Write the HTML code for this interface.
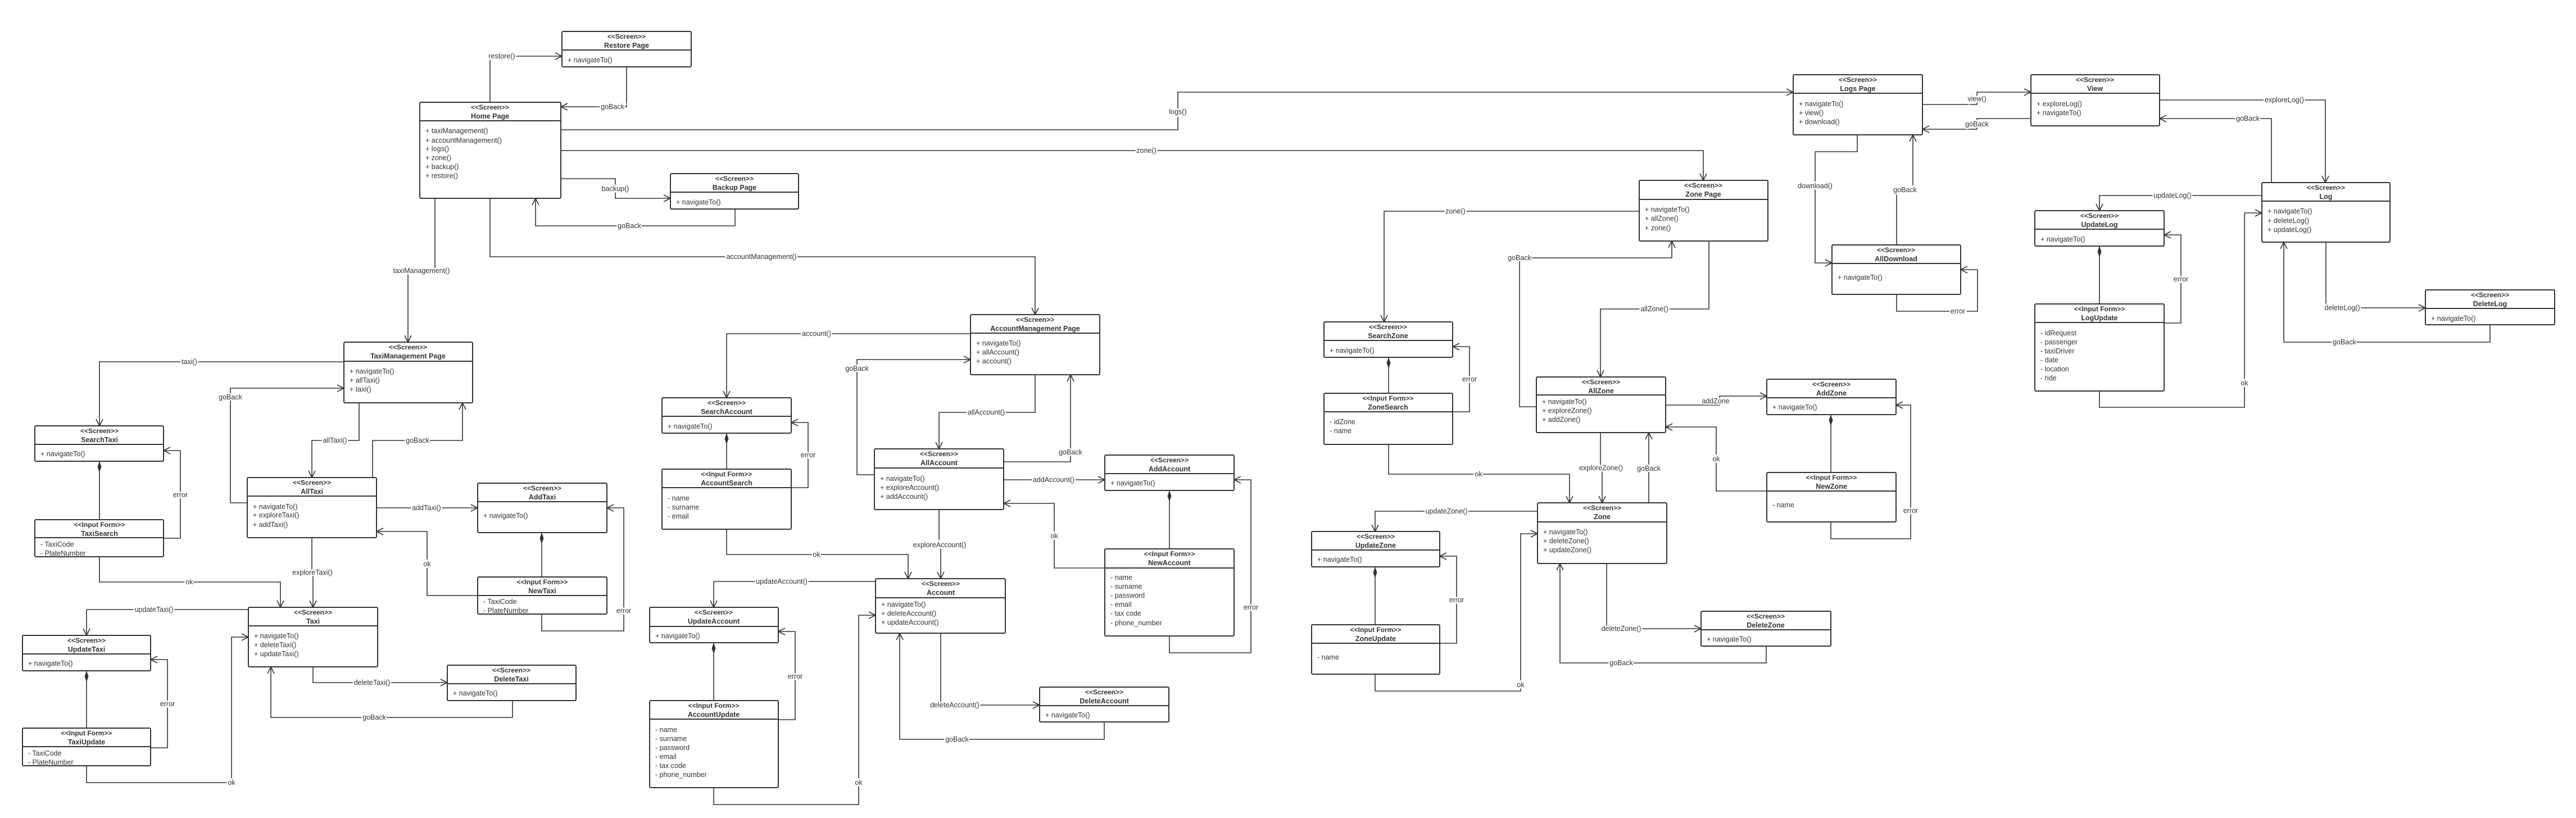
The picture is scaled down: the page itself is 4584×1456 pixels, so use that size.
<!DOCTYPE html>
<html><head><meta charset="utf-8"><style>
html,body{margin:0;padding:0;background:#fff}
svg{display:block}
text{font-family:"Liberation Sans",sans-serif;fill:#333;font-size:12.5px}
.s{font-weight:bold;text-anchor:middle;font-size:12px}
.n{font-weight:bold;text-anchor:middle;font-size:12.5px}
.l{text-anchor:middle;dominant-baseline:central;stroke:#fff;stroke-width:5px;paint-order:stroke;font-size:12.5px}
.b{fill:#fff;stroke:#333;stroke-width:2}
.d{stroke:#333;stroke-width:2}
.c{fill:none;stroke:#333;stroke-width:1.6;marker-end:url(#a)}
.k{fill:none;stroke:#333;stroke-width:1.6;marker-start:url(#m)}
.p{fill:none;stroke:#333;stroke-width:1.6}
</style></head><body>
<svg width="4584" height="1456" viewBox="0 0 4584 1456" xmlns="http://www.w3.org/2000/svg">
<defs>
<marker id="a" viewBox="0 0 14 14" refX="13" refY="7" markerWidth="14" markerHeight="14" markerUnits="userSpaceOnUse" orient="auto"><path d="M1,1 L13,7 L1,13" fill="none" stroke="#333" stroke-width="1.6"/></marker>
<marker id="m" viewBox="0 0 20 10" refX="0" refY="5" markerWidth="20" markerHeight="10" markerUnits="userSpaceOnUse" orient="auto"><path d="M0,5 L10,1.5 L20,5 L10,8.5Z" fill="#333"/></marker>
</defs>

<!-- connectors -->
<polyline class="c" points="872,182 872,100 1000,100"/>
<polyline class="c" points="1115,119 1115,190 998,190"/>
<polyline class="c" points="998,231 2096,231 2096,164 3191,164"/>
<polyline class="c" points="998,268 3031,268 3031,321"/>
<polyline class="c" points="998,318 1095,318 1095,353 1193,353"/>
<polyline class="c" points="1308,372 1308,402 953,402 953,353"/>
<polyline class="c" points="872,353 872,457 1842,457 1842,560"/>
<polyline class="c" points="774,353 774,482 726,482 726,609"/>
<polyline class="c" points="612,644 177,644 177,758"/>
<polyline class="c" points="440,895 410,895 410,691 612,691"/>
<polyline class="c" points="639,717 639,784 555,784 555,850"/>
<polyline class="c" points="663,850 663,784 823,784 823,717"/>
<polyline class="c" points="291,958 321,958 321,802 291,802"/>
<polyline class="k" points="177,821 177,925"/>
<polyline class="c" points="177,991 177,1036 499,1036 499,1081"/>
<polyline class="c" points="670,904 850,904"/>
<polyline class="c" points="850,1060 760,1060 760,946 670,946"/>
<polyline class="k" points="964,948 964,1027"/>
<polyline class="c" points="964,1093 964,1123 1110,1123 1110,904 1080,904"/>
<polyline class="c" points="555,957 555,1019 557,1019 557,1081"/>
<polyline class="c" points="442,1085 154,1085 154,1131"/>
<polyline class="c" points="268,1331 298,1331 298,1174 268,1174"/>
<polyline class="k" points="154,1194 154,1296"/>
<polyline class="c" points="154,1363 154,1393 412,1393 412,1134 442,1134"/>
<polyline class="c" points="557,1187 557,1215 796,1215"/>
<polyline class="c" points="912,1247 912,1277 482,1277 482,1187"/>

<polyline class="c" points="1727,594 1293,594 1293,708"/>
<polyline class="c" points="1556,845 1525,845 1525,640 1727,640"/>
<polyline class="c" points="1842,667 1842,734 1671,734 1671,799"/>
<polyline class="c" points="1786,822 1905,822 1905,667"/>
<polyline class="c" points="1408,868 1438,868 1438,752 1408,752"/>
<polyline class="k" points="1293,771 1293,835"/>
<polyline class="c" points="1293,942 1293,987 1616,987 1616,1030"/>
<polyline class="c" points="1786,854 1966,854"/>
<polyline class="c" points="1966,1011 1876,1011 1876,896 1786,896"/>
<polyline class="k" points="2081,873 2081,977"/>
<polyline class="c" points="2081,1132 2081,1162 2226,1162 2226,854 2196,854"/>
<polyline class="c" points="1671,907 1671,970 1674,970 1674,1030"/>
<polyline class="c" points="1558,1035 1270,1035 1270,1081"/>
<polyline class="c" points="1385,1281 1415,1281 1415,1124 1385,1124"/>
<polyline class="k" points="1270,1144 1270,1247"/>
<polyline class="c" points="1270,1402 1270,1432 1528,1432 1528,1095 1558,1095"/>
<polyline class="c" points="1674,1127 1674,1255 1850,1255"/>
<polyline class="c" points="1965,1285 1965,1316 1601,1316 1601,1127"/>

<polyline class="c" points="2917,376 2463,376 2463,573"/>
<polyline class="c" points="2734,724 2704,724 2704,459 2975,459 2975,429"/>
<polyline class="c" points="3041,429 3041,550 2848,550 2848,671"/>
<polyline class="c" points="2585,733 2615,733 2615,617 2585,617"/>
<polyline class="k" points="2471,636 2471,700"/>
<polyline class="c" points="2471,791 2471,844 2793,844 2793,895"/>
<polyline class="c" points="2964,721 3060,721 3060,705 3144,705"/>
<polyline class="c" points="3144,874 3054,874 3054,760 2964,760"/>
<polyline class="k" points="3258,738 3258,841"/>
<polyline class="c" points="3258,929 3258,959 3400,959 3400,721 3374,721"/>
<polyline class="c" points="2848,770 2848,833 2851,833 2851,895"/>
<polyline class="c" points="2934,895 2934,770"/>
<polyline class="c" points="2736,910 2447,910 2447,946"/>
<polyline class="c" points="2562,1145 2592,1145 2592,990 2562,990"/>
<polyline class="k" points="2447,1009 2447,1112"/>
<polyline class="c" points="2447,1200 2447,1230 2706,1230 2706,950 2736,950"/>
<polyline class="c" points="2859,1003 2859,1119 3027,1119"/>
<polyline class="c" points="3143,1150 3143,1180 2776,1180 2776,1003"/>

<polyline class="c" points="3421,186 3518,186 3518,164 3614,164"/>
<polyline class="c" points="3614,211 3518,211 3518,230 3421,230"/>
<polyline class="c" points="3843,178 4138,178 4138,325"/>
<polyline class="c" points="4042,325 4042,211 3843,211"/>
<polyline class="c" points="3305,240 3305,270 3230,270 3230,468 3260,468"/>
<polyline class="c" points="3375,436 3375,338 3404,338 3404,240"/>
<polyline class="c" points="3375,524 3375,554 3519,554 3519,480 3489,480"/>
<polyline class="c" points="4025,348 3736,348 3736,375"/>
<polyline class="c" points="3851,575 3881,575 3881,418 3851,418"/>
<polyline class="k" points="3736,438 3736,541"/>
<polyline class="c" points="3736,696 3736,725 3994,725 3994,379 4025,379"/>
<polyline class="c" points="4139,431 4139,548 4316,548"/>
<polyline class="c" points="4431,578 4431,609 4064,609 4064,431"/>

<!-- labels -->
<text class="l" x="893" y="100">restore()</text>
<text class="l" x="1090" y="190">goBack</text>
<text class="l" x="2096" y="199">logs()</text>
<text class="l" x="2040" y="268">zone()</text>
<text class="l" x="1095" y="336">backup()</text>
<text class="l" x="1120" y="402">goBack</text>
<text class="l" x="1355" y="457">accountManagement()</text>
<text class="l" x="750" y="482">taxiManagement()</text>
<text class="l" x="337" y="644">taxi()</text>
<text class="l" x="410" y="707">goBack</text>
<text class="l" x="596" y="784">allTaxi()</text>
<text class="l" x="743" y="784">goBack</text>
<text class="l" x="321" y="881">error</text>
<text class="l" x="337" y="1036">ok</text>
<text class="l" x="759" y="904">addTaxi()</text>
<text class="l" x="760" y="1004">ok</text>
<text class="l" x="1110" y="1087">error</text>
<text class="l" x="556" y="1019">exploreTaxi()</text>
<text class="l" x="274" y="1085">updateTaxi()</text>
<text class="l" x="298" y="1253">error</text>
<text class="l" x="412" y="1393">ok</text>
<text class="l" x="662" y="1215">deleteTaxi()</text>
<text class="l" x="666" y="1277">goBack</text>

<text class="l" x="1453" y="594">account()</text>
<text class="l" x="1525" y="656">goBack</text>
<text class="l" x="1755" y="734">allAccount()</text>
<text class="l" x="1905" y="805">goBack</text>
<text class="l" x="1438" y="810">error</text>
<text class="l" x="1453" y="987">ok</text>
<text class="l" x="1875" y="854">addAccount()</text>
<text class="l" x="1876" y="954">ok</text>
<text class="l" x="2226" y="1081">error</text>
<text class="l" x="1672" y="970">exploreAccount()</text>
<text class="l" x="1391" y="1035">updateAccount()</text>
<text class="l" x="1415" y="1204">error</text>
<text class="l" x="1528" y="1393">ok</text>
<text class="l" x="1699" y="1255">deleteAccount()</text>
<text class="l" x="1703" y="1316">goBack</text>

<text class="l" x="2590" y="376">zone()</text>
<text class="l" x="2704" y="459">goBack</text>
<text class="l" x="2944" y="550">allZone()</text>
<text class="l" x="2615" y="675">error</text>
<text class="l" x="2631" y="844">ok</text>
<text class="l" x="3053" y="714">addZone</text>
<text class="l" x="3054" y="817">ok</text>
<text class="l" x="3400" y="909">error</text>
<text class="l" x="2849" y="833">exploreZone()</text>
<text class="l" x="2934" y="834">goBack</text>
<text class="l" x="2574" y="910">updateZone()</text>
<text class="l" x="2592" y="1068">error</text>
<text class="l" x="2706" y="1219">ok</text>
<text class="l" x="2885" y="1119">deleteZone()</text>
<text class="l" x="2885" y="1180">goBack</text>

<text class="l" x="3518" y="176">view()</text>
<text class="l" x="3518" y="221">goBack</text>
<text class="l" x="4065" y="178">exploreLog()</text>
<text class="l" x="4000" y="211">goBack</text>
<text class="l" x="3230" y="331">download()</text>
<text class="l" x="3390" y="338">goBack</text>
<text class="l" x="3484" y="554">error</text>
<text class="l" x="3866" y="348">updateLog()</text>
<text class="l" x="3881" y="497">error</text>
<text class="l" x="3994" y="682">ok</text>
<text class="l" x="4168" y="548">deleteLog()</text>
<text class="l" x="4172" y="609">goBack</text>

<!-- boxes -->
<!-- Restore Page -->
<rect class="b" x="1000" y="56" width="230" height="63" rx="2"/><line class="d" x1="1000" y1="89" x2="1230" y2="89"/>
<text class="s" x="1115" y="69">&lt;&lt;Screen&gt;&gt;</text><text class="n" x="1115" y="85">Restore Page</text>
<text x="1010" y="111">+ navigateTo()</text>
<!-- Home Page -->
<rect class="b" x="747" y="182" width="251" height="171" rx="2"/><line class="d" x1="747" y1="215" x2="998" y2="215"/>
<text class="s" x="872" y="195">&lt;&lt;Screen&gt;&gt;</text><text class="n" x="872" y="211">Home Page</text>
<text x="757" y="237">+ taxiManagement()</text><text x="757" y="254">+ accountManagement()</text><text x="757" y="269">+ logs()</text><text x="757" y="285">+ zone()</text><text x="757" y="301">+ backup()</text><text x="757" y="317">+ restore()</text>
<!-- Backup Page -->
<rect class="b" x="1193" y="309" width="228" height="63" rx="2"/><line class="d" x1="1193" y1="342" x2="1421" y2="342"/>
<text class="s" x="1307" y="322">&lt;&lt;Screen&gt;&gt;</text><text class="n" x="1307" y="338">Backup Page</text>
<text x="1203" y="364">+ navigateTo()</text>
<!-- TaxiManagement -->
<rect class="b" x="612" y="609" width="229" height="108" rx="2"/><line class="d" x1="612" y1="643" x2="841" y2="643"/>
<text class="s" x="726" y="622">&lt;&lt;Screen&gt;&gt;</text><text class="n" x="726" y="638">TaxiManagement Page</text>
<text x="622" y="665">+ navigateTo()</text><text x="622" y="681">+ allTaxi()</text><text x="622" y="697">+ taxi()</text>
<!-- SearchTaxi -->
<rect class="b" x="62" y="758" width="229" height="63" rx="2"/><line class="d" x1="62" y1="791" x2="291" y2="791"/>
<text class="s" x="177" y="771">&lt;&lt;Screen&gt;&gt;</text><text class="n" x="177" y="787">SearchTaxi</text>
<text x="72" y="812">+ navigateTo()</text>
<!-- TaxiSearch -->
<rect class="b" x="62" y="925" width="229" height="66" rx="2"/><line class="d" x1="62" y1="957" x2="291" y2="957"/>
<text class="s" x="177" y="938">&lt;&lt;Input Form&gt;&gt;</text><text class="n" x="177" y="954">TaxiSearch</text>
<text x="72" y="973">- TaxiCode</text><text x="72" y="989">- PlateNumber</text>
<!-- AllTaxi -->
<rect class="b" x="440" y="850" width="230" height="107" rx="2"/><line class="d" x1="440" y1="883" x2="670" y2="883"/>
<text class="s" x="555" y="863">&lt;&lt;Screen&gt;&gt;</text><text class="n" x="555" y="879">AllTaxi</text>
<text x="450" y="906">+ navigateTo()</text><text x="450" y="921">+ exploreTaxi()</text><text x="450" y="938">+ addTaxi()</text>
<!-- AddTaxi -->
<rect class="b" x="850" y="860" width="230" height="88" rx="2"/><line class="d" x1="850" y1="893" x2="1080" y2="893"/>
<text class="s" x="965" y="873">&lt;&lt;Screen&gt;&gt;</text><text class="n" x="965" y="889">AddTaxi</text>
<text x="860" y="922">+ navigateTo()</text>
<!-- NewTaxi -->
<rect class="b" x="850" y="1027" width="230" height="66" rx="2"/><line class="d" x1="850" y1="1060" x2="1080" y2="1060"/>
<text class="s" x="965" y="1040">&lt;&lt;Input Form&gt;&gt;</text><text class="n" x="965" y="1056">NewTaxi</text>
<text x="860" y="1075">- TaxiCode</text><text x="860" y="1091">- PlateNumber</text>
<!-- Taxi -->
<rect class="b" x="442" y="1081" width="230" height="106" rx="2"/><line class="d" x1="442" y1="1114" x2="672" y2="1114"/>
<text class="s" x="557" y="1094">&lt;&lt;Screen&gt;&gt;</text><text class="n" x="557" y="1110">Taxi</text>
<text x="452" y="1136">+ navigateTo()</text><text x="452" y="1152">+ deleteTaxi()</text><text x="452" y="1168">+ updateTaxi()</text>
<!-- UpdateTaxi -->
<rect class="b" x="40" y="1131" width="228" height="63" rx="2"/><line class="d" x1="40" y1="1164" x2="268" y2="1164"/>
<text class="s" x="154" y="1144">&lt;&lt;Screen&gt;&gt;</text><text class="n" x="154" y="1160">UpdateTaxi</text>
<text x="50" y="1185">+ navigateTo()</text>
<!-- TaxiUpdate -->
<rect class="b" x="40" y="1296" width="228" height="67" rx="2"/><line class="d" x1="40" y1="1329" x2="268" y2="1329"/>
<text class="s" x="154" y="1309">&lt;&lt;Input Form&gt;&gt;</text><text class="n" x="154" y="1325">TaxiUpdate</text>
<text x="50" y="1345">- TaxiCode</text><text x="50" y="1361">- PlateNumber</text>
<!-- DeleteTaxi -->
<rect class="b" x="796" y="1184" width="229" height="63" rx="2"/><line class="d" x1="796" y1="1217" x2="1025" y2="1217"/>
<text class="s" x="910" y="1197">&lt;&lt;Screen&gt;&gt;</text><text class="n" x="910" y="1213">DeleteTaxi</text>
<text x="806" y="1238">+ navigateTo()</text>

<!-- AccountManagement -->
<rect class="b" x="1727" y="560" width="230" height="107" rx="2"/><line class="d" x1="1727" y1="593" x2="1957" y2="593"/>
<text class="s" x="1842" y="573">&lt;&lt;Screen&gt;&gt;</text><text class="n" x="1842" y="589">AccountManagement Page</text>
<text x="1737" y="615">+ navigateTo()</text><text x="1737" y="631">+ allAccount()</text><text x="1737" y="647">+ account()</text>
<!-- SearchAccount -->
<rect class="b" x="1178" y="708" width="230" height="63" rx="2"/><line class="d" x1="1178" y1="741" x2="1408" y2="741"/>
<text class="s" x="1293" y="721">&lt;&lt;Screen&gt;&gt;</text><text class="n" x="1293" y="737">SearchAccount</text>
<text x="1188" y="763">+ navigateTo()</text>
<!-- AccountSearch -->
<rect class="b" x="1178" y="835" width="230" height="107" rx="2"/><line class="d" x1="1178" y1="868" x2="1408" y2="868"/>
<text class="s" x="1293" y="848">&lt;&lt;Input Form&gt;&gt;</text><text class="n" x="1293" y="864">AccountSearch</text>
<text x="1188" y="891">- name</text><text x="1188" y="907">- surname</text><text x="1188" y="923">- email</text>
<!-- AllAccount -->
<rect class="b" x="1556" y="799" width="230" height="108" rx="2"/><line class="d" x1="1556" y1="833" x2="1786" y2="833"/>
<text class="s" x="1671" y="812">&lt;&lt;Screen&gt;&gt;</text><text class="n" x="1671" y="828">AllAccount</text>
<text x="1566" y="856">+ navigateTo()</text><text x="1566" y="872">+ exploreAccount()</text><text x="1566" y="888">+ addAccount()</text>
<!-- AddAccount -->
<rect class="b" x="1966" y="810" width="230" height="63" rx="2"/><line class="d" x1="1966" y1="843" x2="2196" y2="843"/>
<text class="s" x="2081" y="823">&lt;&lt;Screen&gt;&gt;</text><text class="n" x="2081" y="839">AddAccount</text>
<text x="1976" y="864">+ navigateTo()</text>
<!-- NewAccount -->
<rect class="b" x="1966" y="977" width="230" height="155" rx="2"/><line class="d" x1="1966" y1="1011" x2="2196" y2="1011"/>
<text class="s" x="2081" y="990">&lt;&lt;Input Form&gt;&gt;</text><text class="n" x="2081" y="1006">NewAccount</text>
<text x="1976" y="1032">- name</text><text x="1976" y="1048">- surname</text><text x="1976" y="1064">- password</text><text x="1976" y="1080">- email</text><text x="1976" y="1096">- tax code</text><text x="1976" y="1113">- phone_number</text>
<!-- Account -->
<rect class="b" x="1558" y="1030" width="231" height="97" rx="2"/><line class="d" x1="1558" y1="1064" x2="1789" y2="1064"/>
<text class="s" x="1674" y="1043">&lt;&lt;Screen&gt;&gt;</text><text class="n" x="1674" y="1059">Account</text>
<text x="1568" y="1080">+ navigateTo()</text><text x="1568" y="1096">+ deleteAccount()</text><text x="1568" y="1112">+ updateAccount()</text>
<!-- UpdateAccount -->
<rect class="b" x="1156" y="1081" width="229" height="63" rx="2"/><line class="d" x1="1156" y1="1115" x2="1385" y2="1115"/>
<text class="s" x="1270" y="1094">&lt;&lt;Screen&gt;&gt;</text><text class="n" x="1270" y="1110">UpdateAccount</text>
<text x="1166" y="1136">+ navigateTo()</text>
<!-- AccountUpdate -->
<rect class="b" x="1156" y="1247" width="229" height="155" rx="2"/><line class="d" x1="1156" y1="1280" x2="1385" y2="1280"/>
<text class="s" x="1270" y="1260">&lt;&lt;Input Form&gt;&gt;</text><text class="n" x="1270" y="1276">AccountUpdate</text>
<text x="1166" y="1303">- name</text><text x="1166" y="1319">- surname</text><text x="1166" y="1335">- password</text><text x="1166" y="1351">- email</text><text x="1166" y="1367">- tax code</text><text x="1166" y="1383">- phone_number</text>
<!-- DeleteAccount -->
<rect class="b" x="1850" y="1223" width="230" height="62" rx="2"/><line class="d" x1="1850" y1="1256" x2="2080" y2="1256"/>
<text class="s" x="1965" y="1236">&lt;&lt;Screen&gt;&gt;</text><text class="n" x="1965" y="1252">DeleteAccount</text>
<text x="1860" y="1277">+ navigateTo()</text>

<!-- Zone Page -->
<rect class="b" x="2917" y="321" width="229" height="108" rx="2"/><line class="d" x1="2917" y1="355" x2="3146" y2="355"/>
<text class="s" x="3031" y="334">&lt;&lt;Screen&gt;&gt;</text><text class="n" x="3031" y="350">Zone Page</text>
<text x="2927" y="377">+ navigateTo()</text><text x="2927" y="393">+ allZone()</text><text x="2927" y="410">+ zone()</text>
<!-- SearchZone -->
<rect class="b" x="2356" y="573" width="229" height="63" rx="2"/><line class="d" x1="2356" y1="606" x2="2585" y2="606"/>
<text class="s" x="2470" y="586">&lt;&lt;Screen&gt;&gt;</text><text class="n" x="2470" y="602">SearchZone</text>
<text x="2366" y="628">+ navigateTo()</text>
<!-- ZoneSearch -->
<rect class="b" x="2356" y="700" width="229" height="91" rx="2"/><line class="d" x1="2356" y1="733" x2="2585" y2="733"/>
<text class="s" x="2470" y="713">&lt;&lt;Input Form&gt;&gt;</text><text class="n" x="2470" y="729">ZoneSearch</text>
<text x="2366" y="755">- idZone</text><text x="2366" y="771">- name</text>
<!-- AllZone -->
<rect class="b" x="2734" y="671" width="230" height="99" rx="2"/><line class="d" x1="2734" y1="703" x2="2964" y2="703"/>
<text class="s" x="2849" y="684">&lt;&lt;Screen&gt;&gt;</text><text class="n" x="2849" y="700">AllZone</text>
<text x="2744" y="719">+ navigateTo()</text><text x="2744" y="735">+ exploreZone()</text><text x="2744" y="751">+ addZone()</text>
<!-- AddZone -->
<rect class="b" x="3144" y="675" width="230" height="63" rx="2"/><line class="d" x1="3144" y1="708" x2="3374" y2="708"/>
<text class="s" x="3259" y="688">&lt;&lt;Screen&gt;&gt;</text><text class="n" x="3259" y="704">AddZone</text>
<text x="3154" y="729">+ navigateTo()</text>
<!-- NewZone -->
<rect class="b" x="3144" y="841" width="230" height="88" rx="2"/><line class="d" x1="3144" y1="874" x2="3374" y2="874"/>
<text class="s" x="3259" y="854">&lt;&lt;Input Form&gt;&gt;</text><text class="n" x="3259" y="870">NewZone</text>
<text x="3154" y="903">- name</text>
<!-- Zone -->
<rect class="b" x="2736" y="895" width="230" height="108" rx="2"/><line class="d" x1="2736" y1="929" x2="2966" y2="929"/>
<text class="s" x="2851" y="908">&lt;&lt;Screen&gt;&gt;</text><text class="n" x="2851" y="924">Zone</text>
<text x="2746" y="951">+ navigateTo()</text><text x="2746" y="967">+ deleteZone()</text><text x="2746" y="983">+ updateZone()</text>
<!-- UpdateZone -->
<rect class="b" x="2334" y="946" width="228" height="63" rx="2"/><line class="d" x1="2334" y1="979" x2="2562" y2="979"/>
<text class="s" x="2448" y="959">&lt;&lt;Screen&gt;&gt;</text><text class="n" x="2448" y="975">UpdateZone</text>
<text x="2344" y="1000">+ navigateTo()</text>
<!-- ZoneUpdate -->
<rect class="b" x="2334" y="1112" width="228" height="88" rx="2"/><line class="d" x1="2334" y1="1145" x2="2562" y2="1145"/>
<text class="s" x="2448" y="1125">&lt;&lt;Input Form&gt;&gt;</text><text class="n" x="2448" y="1141">ZoneUpdate</text>
<text x="2344" y="1174">- name</text>
<!-- DeleteZone -->
<rect class="b" x="3027" y="1088" width="231" height="62" rx="2"/><line class="d" x1="3027" y1="1121" x2="3258" y2="1121"/>
<text class="s" x="3142" y="1101">&lt;&lt;Screen&gt;&gt;</text><text class="n" x="3142" y="1117">DeleteZone</text>
<text x="3037" y="1142">+ navigateTo()</text>

<!-- Logs Page -->
<rect class="b" x="3191" y="133" width="230" height="107" rx="2"/><line class="d" x1="3191" y1="166" x2="3421" y2="166"/>
<text class="s" x="3306" y="146">&lt;&lt;Screen&gt;&gt;</text><text class="n" x="3306" y="162">Logs Page</text>
<text x="3201" y="189">+ navigateTo()</text><text x="3201" y="205">+ view()</text><text x="3201" y="221">+ download()</text>
<!-- View -->
<rect class="b" x="3614" y="133" width="229" height="91" rx="2"/><line class="d" x1="3614" y1="166" x2="3843" y2="166"/>
<text class="s" x="3728" y="146">&lt;&lt;Screen&gt;&gt;</text><text class="n" x="3728" y="162">View</text>
<text x="3624" y="189">+ exploreLog()</text><text x="3624" y="205">+ navigateTo()</text>
<!-- Log -->
<rect class="b" x="4025" y="325" width="228" height="106" rx="2"/><line class="d" x1="4025" y1="358" x2="4253" y2="358"/>
<text class="s" x="4139" y="338">&lt;&lt;Screen&gt;&gt;</text><text class="n" x="4139" y="354">Log</text>
<text x="4035" y="380">+ navigateTo()</text><text x="4035" y="397">+ deleteLog()</text><text x="4035" y="413">+ updateLog()</text>
<!-- AllDownload -->
<rect class="b" x="3260" y="436" width="229" height="88" rx="2"/><line class="d" x1="3260" y1="469" x2="3489" y2="469"/>
<text class="s" x="3374" y="449">&lt;&lt;Screen&gt;&gt;</text><text class="n" x="3374" y="465">AllDownload</text>
<text x="3270" y="498">+ navigateTo()</text>
<!-- UpdateLog -->
<rect class="b" x="3621" y="375" width="230" height="63" rx="2"/><line class="d" x1="3621" y1="408" x2="3851" y2="408"/>
<text class="s" x="3736" y="388">&lt;&lt;Screen&gt;&gt;</text><text class="n" x="3736" y="404">UpdateLog</text>
<text x="3631" y="430">+ navigateTo()</text>
<!-- LogUpdate -->
<rect class="b" x="3621" y="541" width="230" height="155" rx="2"/><line class="d" x1="3621" y1="574" x2="3851" y2="574"/>
<text class="s" x="3736" y="554">&lt;&lt;Input Form&gt;&gt;</text><text class="n" x="3736" y="570">LogUpdate</text>
<text x="3631" y="597">- idRequest</text><text x="3631" y="613">- passenger</text><text x="3631" y="629">- taxiDriver</text><text x="3631" y="645">- date</text><text x="3631" y="661">- location</text><text x="3631" y="677">- ride</text>
<!-- DeleteLog -->
<rect class="b" x="4316" y="516" width="230" height="62" rx="2"/><line class="d" x1="4316" y1="549" x2="4546" y2="549"/>
<text class="s" x="4431" y="529">&lt;&lt;Screen&gt;&gt;</text><text class="n" x="4431" y="545">DeleteLog</text>
<text x="4326" y="571">+ navigateTo()</text>
</svg>
</body></html>
